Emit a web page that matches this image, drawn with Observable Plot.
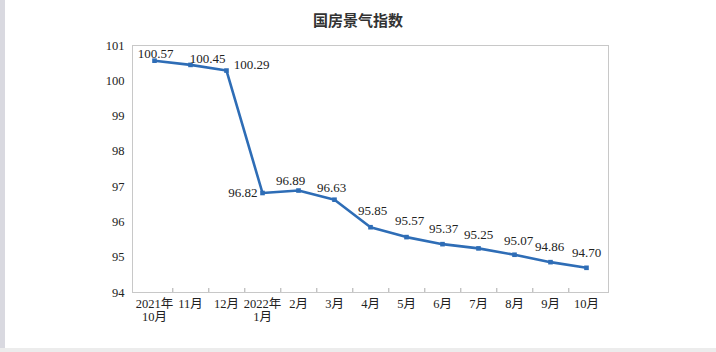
<!DOCTYPE html>
<html><head><meta charset="utf-8">
<script src="https://cdn.jsdelivr.net/npm/d3@7"></script>
<script src="https://cdn.jsdelivr.net/npm/@observablehq/plot@0.6"></script>
<style>
body{margin:0;background:#fff;width:716px;height:352px;overflow:hidden;position:relative;}
#title{height:40px;line-height:40px;text-align:center;font-weight:bold;font-size:15px;font-family:"Noto Sans CJK SC","Noto Sans",sans-serif;color:#333;}
#edgeL{position:absolute;left:0;top:0;width:5px;height:352px;background:#d9d9e0;}
#edgeB{position:absolute;left:0;top:348px;width:716px;height:4px;background:#ececec;}
#chart svg, #chart svg text{font-family:'Liberation Serif','Noto Sans CJK SC',serif !important;}
</style></head><body>
<div id="title">国房景气指数</div>
<div id="chart"></div>
<div id="edgeL"></div><div id="edgeB"></div>
<script>
const months = ["2021年\n10月","11月","12月","2022年\n1月","2月","3月","4月","5月","6月","7月","8月","9月","10月"];
const values = [100.57,100.45,100.29,96.82,96.89,96.63,95.85,95.57,95.37,95.25,95.07,94.86,94.70];
const yTicks = [94,95,96,97,98,99,100,101];

// label placement (layout only)
const labelLayout = [
  {dx:1,dy:-6.5,a:"middle"},{dx:17,dy:-6,a:"middle"},{dx:25,dy:-6,a:"middle"},
  {dx:-5,dy:0,a:"end"},{dx:-8,dy:-10,a:"middle"},{dx:-3,dy:-12,a:"middle"},
  {dx:2,dy:-16,a:"middle"},{dx:3,dy:-16,a:"middle"},{dx:1,dy:-15,a:"middle"},
  {dx:0,dy:-14,a:"middle"},{dx:4,dy:-14,a:"middle"},{dx:-1,dy:-15,a:"middle"},{dx:0,dy:-15,a:"middle"}
];

const rows = months.map((m,i)=>({month:m, value:values[i]}));
const W = 716, H = 312, ML = 132, MR = 108, MT = 5, MB = 60;
const step = (W - ML - MR) / months.length;
const color = "#2e6db6";

const labelMarks = rows.map((r,i)=>Plot.text([r], {
  x:"month", y:"value", text: d=>d.value.toFixed(2),
  dx: labelLayout[i].dx, dy: labelLayout[i].dy, textAnchor: labelLayout[i].a,
  fontSize: 13, fill:"#222"
}));

const chart = Plot.plot({
  width: W, height: H,
  marginLeft: ML, marginRight: MR, marginTop: MT, marginBottom: MB,
  style: {fontSize: "12px", color: "#222", background: "transparent"},
  x: {type: "point", domain: months, padding: 0.5, axis: null},
  y: {domain: [94, 101], axis: null},
  marks: [
    Plot.frame({stroke: "#c8c8c8"}),
    Plot.ruleX(months.slice(0,-1), {x: d=>d, dx: step/2, insetTop: H - MT - MB - 4, stroke: "#aaa"}),
    Plot.axisY({ticks: yTicks, tickFormat: d3.format("d"), tickSize: 0, tickPadding: 8, fontSize: 12.5, label: null, fill: "#222"}),
    Plot.axisX({tickSize: 0, tickPadding: 6, fontSize: 12.5, label: null, lineHeight: 1.05, fill: "#222"}),
    Plot.line(rows, {x:"month", y:"value", stroke: color, strokeWidth: 2.6}),
    Plot.dot(rows, {x:"month", y:"value", symbol:"square", r: 2.6, fill: color, stroke: "none"}),
    ...labelMarks
  ]
});
document.getElementById("chart").appendChild(chart);
</script>
</body></html>
